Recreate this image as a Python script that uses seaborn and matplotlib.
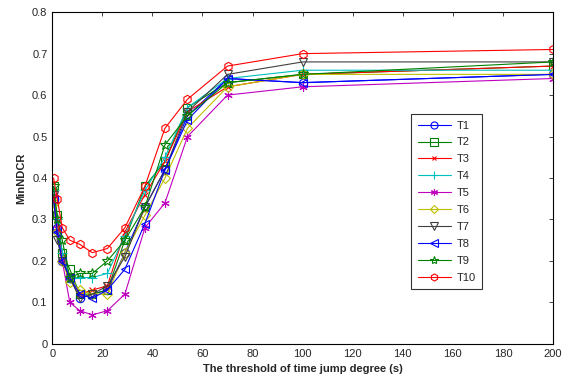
import pandas as pd
import matplotlib
matplotlib.use('Agg')
import matplotlib.pyplot as plt
import seaborn as sns

# threshold values (x) and MinNDCR for each run
thresholds = [0.5, 2, 4, 7, 11, 16, 22, 29, 37, 45, 54, 70, 100, 200]

T1 = [0.35, 0.28, 0.20, 0.16, 0.11, 0.12, 0.13, 0.22, 0.33, 0.42, 0.55, 0.64, 0.63, 0.65]
T2 = [0.38, 0.31, 0.22, 0.18, 0.12, 0.12, 0.13, 0.25, 0.38, 0.44, 0.57, 0.63, 0.65, 0.67]
T3 = [0.36, 0.30, 0.21, 0.16, 0.12, 0.13, 0.14, 0.27, 0.36, 0.44, 0.56, 0.62, 0.65, 0.67]
T4 = [0.37, 0.30, 0.22, 0.16, 0.16, 0.16, 0.17, 0.26, 0.37, 0.45, 0.57, 0.64, 0.66, 0.66]
T5 = [0.36, 0.28, 0.20, 0.10, 0.08, 0.07, 0.08, 0.12, 0.28, 0.34, 0.50, 0.60, 0.62, 0.64]
T6 = [0.34, 0.27, 0.20, 0.15, 0.13, 0.12, 0.12, 0.22, 0.31, 0.40, 0.52, 0.62, 0.65, 0.65]
T7 = [0.36, 0.25, 0.20, 0.16, 0.11, 0.12, 0.14, 0.21, 0.33, 0.42, 0.56, 0.65, 0.68, 0.68]
T8 = [0.35, 0.27, 0.20, 0.16, 0.12, 0.11, 0.13, 0.18, 0.29, 0.42, 0.54, 0.64, 0.63, 0.65]
T9 = [0.38, 0.30, 0.25, 0.16, 0.17, 0.17, 0.20, 0.25, 0.33, 0.48, 0.55, 0.63, 0.65, 0.68]
T10 = [0.40, 0.35, 0.28, 0.25, 0.24, 0.22, 0.23, 0.28, 0.38, 0.52, 0.59, 0.67, 0.70, 0.71]

names = ['T1', 'T2', 'T3', 'T4', 'T5', 'T6', 'T7', 'T8', 'T9', 'T10']
series = [T1, T2, T3, T4, T5, T6, T7, T8, T9, T10]

colors = ['#0000ff', '#008000', '#ff0000', '#00bfbf', '#bf00bf',
          '#bfbf00', '#404040', '#0000ff', '#008000', '#ff0000']
markers = ['o', 's', 'x', '+', (6, 2, 0), 'D', 'v', '<', '*', 'h']
msizes = [6, 6, 4, 7, 6, 5, 6, 6, 7, 6]

rows = []
for n, vals in zip(names, series):
    for x, y in zip(thresholds, vals):
        rows.append({'threshold': x, 'MinNDCR': y, 'run': n})
df = pd.DataFrame(rows)

sns.set_style('white')
plt.rcParams['font.family'] = ['Liberation Sans', 'DejaVu Sans']

fig, ax = plt.subplots(figsize=(5.62, 3.8), dpi=100)
for n, c, m, ms in zip(names, colors, markers, msizes):
    sub = df[df['run'] == n]
    sns.lineplot(data=sub, x='threshold', y='MinNDCR', ax=ax, color=c,
                 marker=m, markersize=ms, markerfacecolor='none',
                 markeredgecolor=c, markeredgewidth=0.8, linewidth=0.8,
                 label=n, estimator=None)

ax.set_xlim(0, 200)
ax.set_ylim(0, 0.8)
ax.set_xticks(range(0, 201, 20))
ax.set_yticks([0, 0.1, 0.2, 0.3, 0.4, 0.5, 0.6, 0.7, 0.8])
ax.set_yticklabels(['0', '0.1', '0.2', '0.3', '0.4', '0.5', '0.6', '0.7', '0.8'])
ax.tick_params(direction='in', top=True, right=True, labelsize=8, length=3, width=0.6)
for s in ax.spines.values():
    s.set_color('black')
    s.set_linewidth(0.8)
ax.set_xlabel('The threshold of time jump degree (s)', fontsize=8, fontweight='bold')
ax.set_ylabel('MinNDCR', fontsize=8, fontweight='bold')

leg = ax.legend(loc='upper left', bbox_to_anchor=(0.705, 0.71), fontsize=8,
                frameon=True, fancybox=False, edgecolor='black',
                handlelength=3.0, handletextpad=0.5, labelspacing=0.62,
                borderpad=0.6, markerscale=0.85)
leg.get_frame().set_linewidth(0.8)

plt.subplots_adjust(left=0.093, right=0.984, top=0.968, bottom=0.095)
plt.savefig('out.png', dpi=100)
